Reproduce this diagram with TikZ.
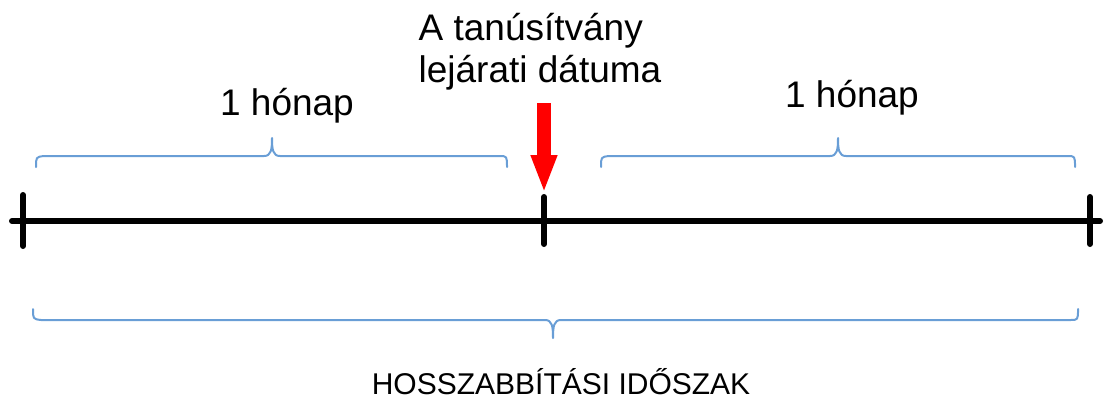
\documentclass[tikz,border=0pt]{standalone}
\usepackage{fontspec}
\setmainfont{Liberation Sans}
\usetikzlibrary{arrows.meta}
\definecolor{braceblue}{RGB}{105,158,214}

\begin{document}
\begin{tikzpicture}[x=1pt,y=-1pt,
    axis/.style={line width=6pt,line cap=round},
    brc/.style={braceblue,line width=2pt,line cap=round,line join=round},
    lbl/.style={font=\fontsize{37}{42}\selectfont,inner sep=0pt}]
    \useasboundingbox (0,0) rectangle (1113,405);
    % time line
    \path (12,221) coordinate (lend); \path (1100,221) coordinate (rend);
    \draw[axis] (lend) -- (rend);
    \path (23,195) coordinate (tick1a); \path (23,246) coordinate (tick1b);
    \path (544,197) coordinate (tick2a); \path (544,244) coordinate (tick2b);
    \path (1090,197) coordinate (tick3a); \path (1090,244) coordinate (tick3b);
    \draw[axis] (tick1a) -- (tick1b);
    \draw[axis] (tick2a) -- (tick2b);
    \draw[axis] (tick3a) -- (tick3b);
    % expiry arrow
    \path (544,103) coordinate (arrtop);
    \draw[red,line width=14pt,-{Triangle[length=38pt,width=24pt]}] (arrtop) -- ([yshift=4pt]tick2a);
    \node[lbl,align=left] (title) at (540,52) {A tanúsítvány\\lejárati dátuma};
    % braces
    \draw[brc] (36,167) .. controls (36,157) .. (44,156) -- (264,156)
      .. controls (271,156) and (272,150) .. (272,138)
      .. controls (272,150) and (273,156) .. (280,156) -- (499,156)
      .. controls (507,156) .. (507,167);
    \draw[brc] (601,167) .. controls (601,157) .. (609,156) -- (830,156)
      .. controls (837,156) and (838,150) .. (838,138)
      .. controls (838,150) and (839,156) .. (846,156) -- (1067,156)
      .. controls (1075,156) .. (1075,167);
    \node[lbl] (leftmonth) at (287,106) {1 hónap};
    \node[lbl] (rightmonth) at (852,98) {1 hónap};
    \draw[brc] (33,309) .. controls (33,319) .. (41,320) -- (545,320)
      .. controls (552,320) and (553,326) .. (553,338)
      .. controls (553,326) and (554,320) .. (561,320) -- (1070,320)
      .. controls (1078,320) .. (1078,309);
    \node[font=\fontsize{30}{36}\selectfont,inner sep=0pt] (period) at (561,382) {HOSSZABBÍTÁSI IDŐSZAK};
\end{tikzpicture}
\end{document}
